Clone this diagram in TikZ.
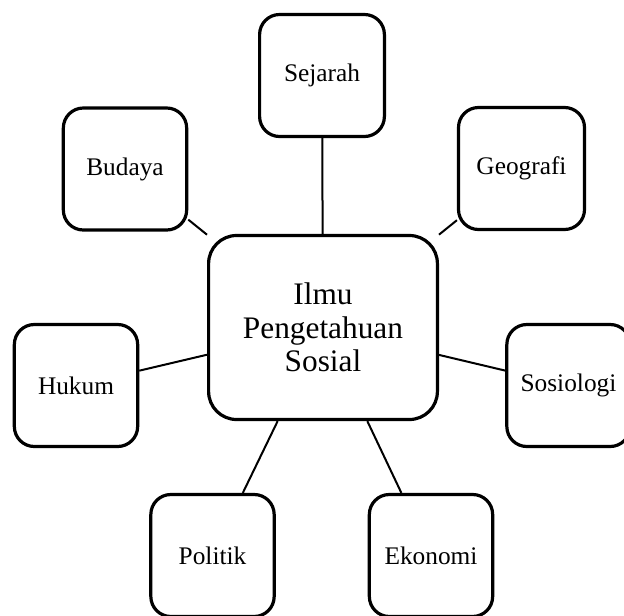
\documentclass[tikz,border=0pt]{standalone}
\usepackage{fontspec}
\setmainfont{Liberation Serif}
\begin{document}
\begin{tikzpicture}[x=0.75pt,y=-0.75pt,
  topic/.style={draw=black, fill=white, line width=2.4pt, rounded corners=15pt,
    minimum width=92.5pt, minimum height=91.5pt, inner sep=0pt,
    font=\fontsize{19}{22}\selectfont},
  hub/.style={draw=black, fill=white, line width=2.4pt, rounded corners=21pt,
    minimum width=171.6pt, minimum height=138pt, inner sep=0pt, align=center,
    font=\fontsize{23.5}{25}\selectfont},
  link/.style={draw=black, line width=1.5pt}]
  \clip (0,0) rectangle (624,615);
  \fill[white] (0,0) rectangle (624,615);

  % central subject
  \node[hub] (ips) at (323,327.5) {Ilmu\\Pengetahuan\\Sosial};

  % branches
  \node[topic, minimum width=93.6pt] (sejarah) at (322,75.5) {Sejarah};
  \node[topic] (budaya) at (125,169) {Budaya};
  \node[topic, minimum width=94.5pt] (geografi) at (521.5,168.5) {Geografi};
  \node[topic] (hukum) at (76,385.5) {Hukum};
  \node[topic] (sosiologi) at (568.5,385.5) {Sosiologi};
  \node[topic] (politik) at (212.5,555.5) {Politik};
  \node[topic] (ekonomi) at (431,555.5) {Ekonomi};

  % connectors from the hub to each branch
  \foreach \t in {sejarah,budaya,geografi,hukum,sosiologi,politik,ekonomi}
    \draw[link] (ips) -- (\t);
\end{tikzpicture}
\end{document}
